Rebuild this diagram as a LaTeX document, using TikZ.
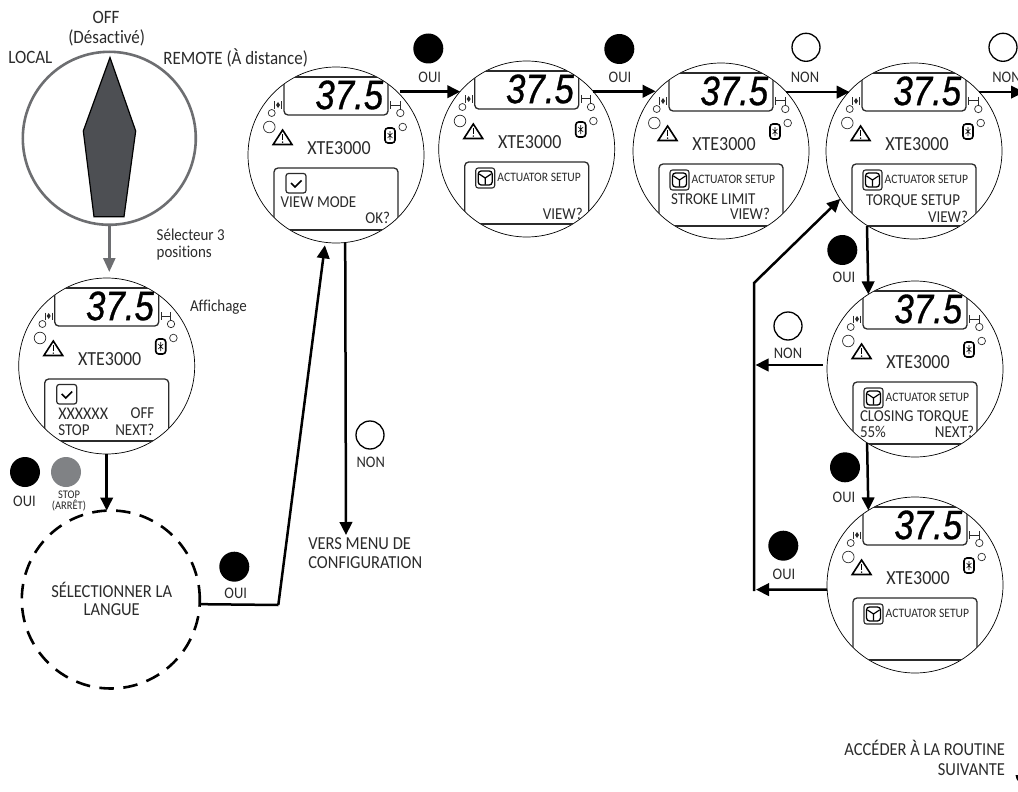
\documentclass[tikz,border=0pt]{standalone}
\usepackage{fontspec}
\usepackage{graphicx}
\setmainfont[FakeStretch=0.9,Ligatures=NoCommon]{Carlito}
\newfontfamily\digitfont[FakeBold=0.8]{Liberation Sans}
\usetikzlibrary{arrows.meta,calc}
\definecolor{ink}{HTML}{2B2B2B}
\definecolor{selgray}{HTML}{6D6E71}
\definecolor{ptrgray}{HTML}{4D4F53}
\definecolor{btngray}{HTML}{808285}
\newcommand{\fsz}[1]{\fontsize{\fpeval{#1*1.11}}{\fpeval{#1*1.11}}\selectfont}
\tikzset{
  lbl/.style={inner sep=0pt,outer sep=0pt,text=ink,align=center},
  lbl17/.style={lbl,font=\fsz{17}},
  lbl15/.style={lbl,font=\fsz{15}},
  btnlbl/.style={lbl,font=\fsz{14.5}},
  paneltxt/.style={lbl,font=\fsz{15}},
  acttxt/.style={lbl,font=\fsz{11.6}},
  modeltxt/.style={lbl,font=\fsz{18}},
  dialc/.style={circle,draw=black,line width=.7pt,minimum size=176pt,inner sep=0pt,outer sep=0pt},
  btnbase/.style={circle,minimum size=30pt,inner sep=0pt,outer sep=0pt},
  blackbtn/.style={btnbase,fill=black},
  graybtn/.style={btnbase,fill=btngray},
  whitebtn/.style={btnbase,minimum size=28pt,draw=black,line width=1.3pt},
  flow/.style={draw=black,line width=2.5pt,-{Triangle[length=13pt,width=12.5pt]}},
  flowline/.style={draw=black,line width=2.5pt},
  panelline/.style={draw=ink,line width=1.3pt},
  iconline/.style={draw=ink,line width=1pt},
}
\newcommand{\checkicon}{%
  \draw[draw=ink,line width=1.2pt,rounded corners=2.5pt] (-50,18.5) rectangle (-30,38);
  \draw[black,line width=1.5pt] (-45,28) -- (-41,32) -- (-34.5,25.5);
}
\newcommand{\actuator}[1]{%
  \draw[draw=ink,line width=1.1pt,rounded corners=2.5pt] (-51,19) rectangle (-32,39);
  \draw[black,line width=1.3pt,rounded corners=3pt] (-48.5,22) rectangle (-34.5,36);
  \draw[black,line width=1.2pt] (-41.5,29) -- (-47.5,25) (-41.5,29) -- (-35.5,25) (-41.5,29) -- (-41.5,35.5);
  \node[acttxt,anchor=west] (#1-act) at (-29.3,28) {ACTUATOR SETUP};
}
% #1 name, #2 cx, #3 cy, #4 panel content
\newcommand{\xtedial}[4]{%
  \node[dialc] (#1) at (#2,#3) {};
  \begin{scope}[shift={(#2,#3)}]
    \begin{scope}
      \clip (0,0) circle (88);
      \draw[panelline,rounded corners=4pt] (-52,-95) -- (-52,-40) -- (52,-40) -- (52,-95);
      \draw[draw=ink,line width=1.6pt] (-52,-78) -- (52,-78);
      \draw[panelline,rounded corners=4pt] (-62,95) -- (-62,13) -- (62,13) -- (62,95);
      \draw[draw=ink,line width=1.6pt] (-62,75) -- (62,75);
    \end{scope}
    \node[inner sep=0pt,outer sep=0pt,text=black] (#1-lcd) at (13.3,-60) {\digitfont\itshape\fontsize{41}{41}\selectfont\scalebox{.85}[1]{37.5}};
    % end-stop icons
    \draw[iconline] (-61.5,-53.5) -- (-61.5,-46) (-54.5,-53.5) -- (-54.5,-46);
    \fill[ink] (-60,-50) -- (-58,-53) -- (-58,-47) -- cycle (-56,-50) -- (-58,-53) -- (-58,-47) -- cycle;
    \draw[iconline] (54.5,-54) -- (54.5,-46) (64,-54) -- (64,-46) (54.5,-50) -- (64,-50);
    % lamps
    \draw[draw=ink,line width=.7pt] (-64.3,-42) circle (3.5) (-66.7,-28) circle (5.8) (64.3,-42) circle (3.7) (66.7,-28) circle (3.8);
    % warning triangle
    \draw[black,line width=1.6pt,line join=miter] (-53.4,-25) -- (-62.8,-10.5) -- (-44,-10.5) -- cycle;
    \draw[black,line width=1.1pt] (-53.4,-21) -- (-53.4,-15.5);
    \fill[black] (-53.4,-12.9) circle (.8);
    % bluetooth
    \draw[black,line width=1.6pt,rounded corners=3pt] (49,-27) rectangle (59,-12);
    \draw[black,line width=.6pt] (54,-24) -- (54,-15) (51.5,-22) -- (56.5,-17) (51.5,-17) -- (56.5,-22);
    \node[modeltxt] (#1-model) at (3,-7) {XTE3000};
    #4
  \end{scope}
}
\begin{document}
\begin{tikzpicture}[x=1pt,y=-1pt]
\useasboundingbox (0,0) rectangle (1018,792);
\clip (0,0) rectangle (1018,792);
\fill[white] (0,0) rectangle (1018,792);

% selector
\node[circle,draw=selgray,line width=2.6pt,minimum size=173pt,inner sep=0pt,outer sep=0pt] (sel) at (109.3,138.3) {};
\draw[black,fill=ptrgray,line width=1.2pt,line join=miter] (110,57.5) -- (135.7,131) -- (124,216.7) -- (94,216.7) -- (83.3,131) -- cycle;
\node[lbl17] (t-off) at (106,17) {OFF};
\node[lbl17] (t-des) at (106.7,38) {(Désactivé)};
\node[lbl17,anchor=west] (t-local) at (8.3,57.5) {LOCAL};
\node[lbl17,anchor=west] (t-remote) at (163.3,57.5) {REMOTE (À distance)};
\node[lbl15,anchor=west] (t-sel1) at (156.7,235) {Sélecteur 3};
\node[lbl15,anchor=west] (t-sel2) at (156.7,253) {positions};
\node[lbl15,anchor=west] (t-aff) at (190,307.3) {Affichage};

% dials
\xtedial{dA}{106.7}{366}{%
  \checkicon
  \node[paneltxt,anchor=west,font=\fsz{16}] (dA-x) at (-48.4,47.3) {XXXXXX};
  \node[paneltxt,anchor=east] (dA-off) at (47.6,47.3) {OFF};
  \node[paneltxt,anchor=west] (dA-stop) at (-48.4,63.8) {STOP};
  \node[paneltxt,anchor=east] (dA-next) at (47.6,63.8) {NEXT?};
}
\xtedial{dB}{336}{155}{%
  \checkicon
  \node[paneltxt,anchor=west] (dB-view) at (-55.3,47.3) {VIEW MODE};
  \node[paneltxt,anchor=east] (dB-ok) at (54,62.7) {OK?};
}
\xtedial{dC}{526.7}{149}{%
  \actuator{dC}
  \node[paneltxt,anchor=east] (dC-view) at (56,64.5) {VIEW?};
}
\xtedial{dD}{721}{151}{%
  \actuator{dD}
  \node[paneltxt,anchor=west] (dD-lim) at (-50,48) {STROKE LIMIT};
  \node[paneltxt,anchor=east] (dD-view) at (49,63) {VIEW?};
}
\xtedial{dE}{914}{151}{%
  \actuator{dE}
  \node[paneltxt,anchor=west] (dE-tq) at (-48,50) {TORQUE SETUP};
  \node[paneltxt,anchor=east] (dE-view) at (54,65.5) {VIEW?};
}
\xtedial{dF}{915}{369}{%
  \actuator{dF}
  \node[paneltxt,anchor=west] (dF-cl) at (-55,48) {CLOSING TORQUE};
  \node[paneltxt,anchor=west] (dF-pc) at (-55,62.7) {55\%};
  \node[paneltxt,anchor=east] (dF-next) at (59,62.7) {NEXT?};
}
\xtedial{dG}{915}{585}{%
  \actuator{dG}
}

% dashed language circle
\node[circle,draw=black,line width=2.6pt,dash pattern=on 14.5pt off 9.5pt,minimum size=178pt,inner sep=0pt,outer sep=0pt] (lang) at (110.8,599.5) {};
\node[lbl,font=\fsz{16.5}] (t-lang1) at (111.7,589.7) {SÉLECTIONNER LA};
\node[lbl,font=\fsz{16.5}] (t-lang2) at (111.7,609.5) {LANGUE};

% buttons and labels
\node[blackbtn] (b1) at (25,472) {};
\node[btnlbl] (b1l) at (24.5,501.7) {OUI};
\node[graybtn] (b2) at (66,472) {};
\node[lbl,font=\fsz{10.5}] (b2l) at (69,495) {STOP};
\node[lbl,font=\fsz{10.5}] (b2m) at (69,506) {(ARRÊT)};
\node[blackbtn] (b3) at (234.3,566.7) {};
\node[btnlbl] (b3l) at (235.7,593.3) {OUI};
\node[whitebtn] (b4) at (370,435) {};
\node[btnlbl] (b4l) at (370.7,462.3) {NON};
\node[blackbtn] (b5) at (428.3,48.5) {};
\node[btnlbl] (b5l) at (429.7,77.3) {OUI};
\node[blackbtn] (b6) at (619.3,49) {};
\node[btnlbl] (b6l) at (620,77.3) {OUI};
\node[whitebtn] (b7) at (806,47.3) {};
\node[btnlbl] (b7l) at (805,77.3) {NON};
\node[whitebtn] (b8) at (1003,47.3) {};
\node[btnlbl,anchor=west] (b8l) at (992.3,77.3) {NON};
\node[blackbtn] (b9) at (842.3,250) {};
\node[btnlbl] (b9l) at (844,277.3) {OUI};
\node[whitebtn] (b10) at (788,326) {};
\node[btnlbl] (b10l) at (788,353) {NON};
\node[blackbtn] (b11) at (845,467.3) {};
\node[btnlbl] (b11l) at (844,497) {OUI};
\node[blackbtn] (b12) at (783.3,545.7) {};
\node[btnlbl] (b12l) at (784,574) {OUI};

% captions
\node[lbl,font=\fsz{16.5},anchor=west] (t-m1) at (308.3,543.3) {VERS MENU DE};
\node[lbl,font=\fsz{16.5},anchor=west] (t-m2) at (308.3,562.7) {CONFIGURATION};
\node[lbl,font=\fsz{16.5},anchor=east] (t-n1) at (1005,748) {ACCÉDER À LA ROUTINE};
\node[lbl,font=\fsz{16.5},anchor=east] (t-n2) at (1005,770) {SUIVANTE};

% free connector ends
\coordinate (menuIn) at (346,535);
\coordinate (bend) at (278.3,605);
\coordinate (offRight) at (1024,90.7);
\coordinate (eOut) at (867,226);
\coordinate (fOut) at (823,365);
\coordinate (trunkTop) at (754,283);
\coordinate (trunkBot) at (754,591);
\coordinate (fTip) at (755.5,365);
\coordinate (gTip) at (756,589.6);

% connectors
\draw[draw=selgray,line width=2.6pt,-{Triangle[length=14pt,width=12pt]},shorten >=6pt] (sel.south) -- (sel.south |- dA.north);
\draw[flow] (dA.south) -- (dA.south |- lang.north);
\draw[flowline] (lang.-3.5) -- (bend);
\draw[flow,shorten >=3pt] (bend) -- (dB.263);
\draw[flow] (dB.276.5) -- (menuIn);
\draw[flow] ($(dB.46)+(3,0)$) -- (dC.139 |- dB.46);
\draw[flow] (dC.41) -- (dD.138 |- dC.41);
\draw[flow] (dD.42.5) -- (dE.137.5 |- dD.42.5);
\draw[flow] (dE.42) -- (offRight |- dE.42);
\draw[flow] (eOut) -- (dF.122.7);
\draw[flow] (dF.237.3) -- (dG.122.7);
\draw[flow] (fOut) -- (fTip);
\draw[flow] (dG.183) -- (gTip);
\draw[flow,line join=miter] (trunkBot) -- (trunkTop) -- (dE.213.3);
\fill[black] (1015.5,775) -- (1018,775) -- (1018,781) -- (1016.5,779) -- cycle;
\end{tikzpicture}
\end{document}
